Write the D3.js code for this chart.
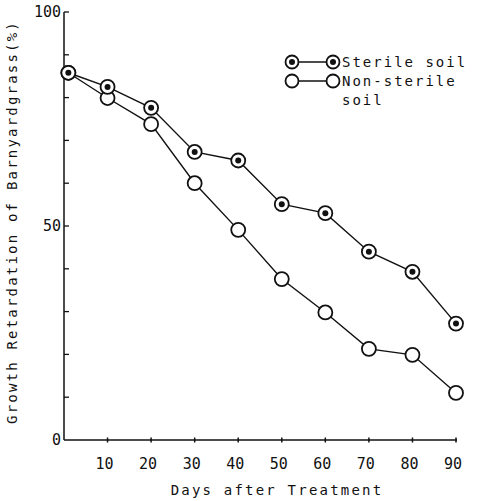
<!DOCTYPE html>
<html><head><meta charset="utf-8">
<script src="https://cdn.jsdelivr.net/npm/d3@7"></script>
<style>body{margin:0;background:#fff}svg{display:block}text{font-family:"DejaVu Sans Mono",monospace;fill:#111}</style>
</head><body><svg id="c" width="477" height="501"></svg>
<script>
const days = [1, 10, 20, 30, 40, 50, 60, 70, 80, 90];
const sterile = [85.8, 82.5, 77.6, 67.3, 65.3, 55.1, 53.0, 44.0, 39.3, 27.2];
const nonSterile = [85.8, 79.9, 73.8, 60.0, 49.1, 37.6, 29.8, 21.3, 19.9, 11.0];
const xTicks = [10, 20, 30, 40, 50, 60, 70, 80, 90];
const yTickLabels = [0, 50, 100];
const yMinorTicks = [10, 20, 30, 40, 50, 60, 70, 80, 90, 100];

const svg = d3.select("#c");
const x = d3.scaleLinear().domain([0, 90]).range([64, 456]);
const y = d3.scaleLinear().domain([0, 100]).range([440, 12]);
const ink = "#111";

// axes lines
svg.append("line").attr("x1", x(0)).attr("x2", x(90) + 1).attr("y1", y(0)).attr("y2", y(0)).attr("stroke", ink).attr("stroke-width", 1.5);
svg.append("line").attr("x1", x(0)).attr("x2", x(0)).attr("y1", y(0)).attr("y2", y(100)).attr("stroke", ink).attr("stroke-width", 1.5);

// y ticks (inward)
svg.selectAll(".yt").data(yMinorTicks).join("line")
  .attr("x1", x(0)).attr("x2", x(0) + 5)
  .attr("y1", d => y(d)).attr("y2", d => y(d))
  .attr("stroke", ink).attr("stroke-width", 1.3);
svg.selectAll(".yl").data(yTickLabels).join("text")
  .attr("x", x(0) - 3).attr("y", d => y(d) + 5)
  .attr("text-anchor", "end").attr("font-size", 15)
  .text(d => d);

// x ticks
svg.selectAll(".xt").data(xTicks).join("line")
  .attr("x1", d => x(d)).attr("x2", d => x(d))
  .attr("y1", y(0) - 2.5).attr("y2", y(0) + 2.5)
  .attr("stroke", ink).attr("stroke-width", 1.5);
svg.selectAll(".xl").data(xTicks).join("text")
  .attr("x", d => x(d) - 3).attr("y", 469)
  .attr("text-anchor", "middle").attr("font-size", 15)
  .text(d => d);

// axis titles
svg.append("text").attr("x", 277).attr("y", 495).attr("text-anchor", "middle")
  .attr("font-size", 14).attr("letter-spacing", 2.2).text("Days after Treatment");
svg.append("text").attr("transform", "translate(17,222) rotate(-90)").attr("text-anchor", "middle")
  .attr("font-size", 14).attr("letter-spacing", 2.2).text("Growth Retardation of Barnyardgrass(%)");

const line = d3.line().x(d => x(d[0])).y(d => y(d[1]));
const sData = days.map((d, i) => [d, sterile[i]]);
const nData = days.map((d, i) => [d, nonSterile[i]]);

function drawSeries(data, filled) {
  svg.append("path").datum(data).attr("d", line).attr("fill", "none").attr("stroke", ink).attr("stroke-width", 1.4);
  const g = svg.append("g");
  g.selectAll("circle.o").data(data).join("circle")
    .attr("cx", d => x(d[0])).attr("cy", d => y(d[1])).attr("r", 7)
    .attr("fill", "#fff").attr("stroke", ink).attr("stroke-width", 1.8);
  if (filled) {
    g.selectAll("circle.i").data(data).join("circle")
      .attr("cx", d => x(d[0])).attr("cy", d => y(d[1])).attr("r", 3)
      .attr("fill", ink);
  }
}
drawSeries(nData, false);
drawSeries(sData, true);

// legend
const legend = [{label: ["Sterile soil"], filled: true, y: 62}, {label: ["Non-sterile", "soil"], filled: false, y: 81}];
legend.forEach(l => {
  svg.append("line").attr("x1", 292).attr("x2", 333).attr("y1", l.y).attr("y2", l.y).attr("stroke", ink).attr("stroke-width", 1.4);
  [292, 333].forEach(cx => {
    svg.append("circle").attr("cx", cx).attr("cy", l.y).attr("r", 6.5).attr("fill", "#fff").attr("stroke", ink).attr("stroke-width", 1.8);
    if (l.filled) svg.append("circle").attr("cx", cx).attr("cy", l.y).attr("r", 3).attr("fill", ink);
  });
  l.label.forEach((t, i) => {
    svg.append("text").attr("x", 342).attr("y", l.y + 5 + i * 19).attr("font-size", 14).attr("letter-spacing", 2).text(t);
  });
});
</script></body></html>
